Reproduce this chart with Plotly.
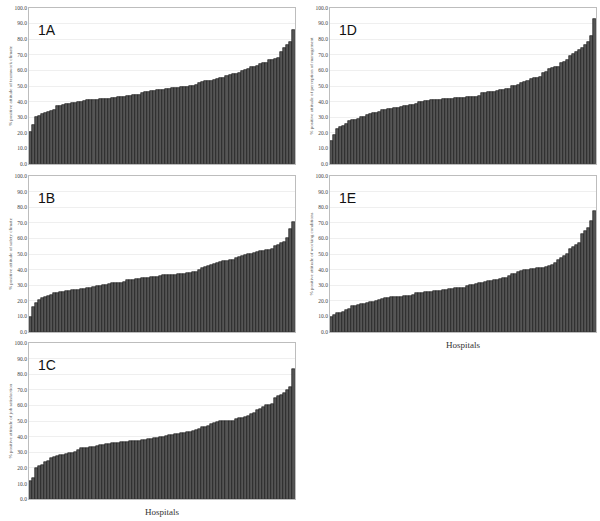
import plotly.graph_objects as go

# ---- data (sorted % positive attitude per hospital) ----
teamwork_climate = [20.5, 25, 30, 31, 32, 33, 33.5, 34, 35, 37, 37.5, 38, 38.3, 38.5, 39, 39.2, 39.5, 40, 40.5, 40.8,
                    41, 41.2, 41.4, 41.5, 41.7, 41.8, 42, 42.2, 42.4, 42.8, 43, 43.2, 43.5, 43.8, 44, 44.2, 44.5, 45.5, 46, 46.3,
                    46.6, 47, 47.2, 47.5, 47.8, 48, 48.3, 48.6, 48.8, 49, 49.3, 49.5, 49.6, 49.8, 50, 51, 52, 52.5, 53, 53.2,
                    53.5, 54, 54.5, 55, 55.5, 56.5, 57, 57.5, 58, 58.5, 59.5, 60, 61, 62, 62.5, 63, 64, 64.5, 65, 66.5,
                    67, 67.5, 68, 72, 74.5, 76, 78, 86]
safety_climate = [10, 16, 18.5, 20.5, 22, 22.5, 23, 23.5, 25, 25.2, 25.5, 26, 26.2, 26.5, 26.8, 27, 27.2, 27.5, 27.8, 28,
                  28.5, 29, 29.5, 29.8, 30, 30.5, 30.8, 31.2, 31.4, 31.5, 31.6, 32, 33.5, 33.6, 33.7, 33.8, 34.2, 34.5, 34.8, 35,
                  35.2, 35.4, 35.6, 36, 36.3, 36.5, 36.6, 36.7, 36.8, 37, 37.2, 37.4, 37.6, 38, 38.3, 38.5, 40, 41, 42, 42.5,
                  43, 43.5, 44.5, 45, 45.5, 45.8, 46, 46.3, 47.5, 48, 48.5, 49.5, 50, 50.2, 51, 51.5, 52, 52.2, 52.4, 52.6,
                  53, 55, 56, 57, 58, 60, 66, 70.5]
job_satisfaction = [11.5, 13.5, 20, 21.5, 22, 24, 24.5, 26.5, 27, 27.5, 28, 28.5, 29, 29.3, 29.6, 30.5, 31.5, 32.5, 32.8, 33,
                    33.3, 33.5, 34, 34.5, 35, 35.3, 35.5, 35.7, 36, 36.2, 36.5, 36.6, 36.8, 37, 37.2, 37.4, 37.5, 37.8, 38, 38.3,
                    38.6, 39, 39.3, 39.6, 40, 40.5, 40.8, 41, 41.5, 42, 42.3, 42.5, 42.8, 43, 43.5, 44, 45, 46, 46.5, 47,
                    48, 48.5, 49.5, 50, 50, 50, 50, 50.2, 51.5, 52, 52.2, 52.5, 53.5, 54.5, 55, 57, 58, 59, 60, 60.5,
                    61, 65, 66, 67, 68, 70, 72, 83.5]
perception_management = [15, 18.5, 22.5, 23.5, 24.5, 26, 27.5, 28, 28.5, 29, 30, 30.5, 31.5, 32, 32.5, 33, 33.5, 34.5, 35, 35.2,
                         35.5, 36, 36.2, 36.5, 37, 37.3, 37.6, 38, 38.5, 39.5, 40, 40.2, 40.5, 40.8, 41, 41.1, 41.3, 41.5, 41.6, 41.8,
                         42, 42.2, 42.3, 42.5, 42.6, 42.7, 42.8, 43, 43.2, 43.5, 45.5, 45.7, 46, 46.2, 46.5, 47, 47.3, 47.6, 48, 48.2,
                         50, 50.2, 51, 52, 52.5, 53.5, 54.5, 55, 55.5, 56, 58.5, 59, 61, 61.5, 62, 62.5, 64.5, 65.5, 66.5, 69,
                         70.5, 72, 73, 74.5, 76, 78.5, 82, 93]
working_conditions = [9.5, 11, 12, 12.2, 12.8, 14, 15, 16.5, 17, 17.5, 17.8, 18, 19, 19.3, 19.6, 20, 20.5, 21, 22, 22.2,
                      22.3, 22.4, 22.5, 22.8, 23, 23.2, 23.4, 23.5, 25, 25.2, 25.3, 25.5, 25.7, 26, 26.2, 26.4, 26.5, 26.7, 27, 27.5,
                      27.7, 28, 28.2, 28.4, 28.6, 29.5, 30, 30.5, 31, 31.5, 31.7, 32, 32.5, 33, 33.2, 33.5, 34, 34.5, 35, 36,
                      37, 37.5, 38.5, 39, 39.5, 40, 40.5, 40.7, 40.8, 41, 41.2, 41.5, 42.5, 43, 44, 46, 47.5, 48.5, 50, 53,
                      54.5, 56, 57, 63, 65, 66.5, 71, 77.5]

panel_labels = ["1A", "1B", "1C", "1D", "1E"]
y_titles = ["% positive attitude of teamwork climate",
            "% positive attitude of safety climate",
            "% positive attitude of job satisfaction",
            "% positive attitude of perception of management",
            "% positive attitude of working conditions"]
series = [teamwork_climate, safety_climate, job_satisfaction, perception_management, working_conditions]
y_ticks = [0, 10, 20, 30, 40, 50, 60, 70, 80, 90, 100]

W, H = 600, 521
def px_x(x): return x / W
def px_y(y): return (H - y) / H

# panel geometry in pixels (left, right, top, bottom)
boxes = [(29, 295, 5, 163), (29, 295, 175, 333), (29, 295, 344, 502),
         (330, 596, 5, 163), (330, 596, 175, 333)]
x_titles = ["", "", "Hospitals", "", "Hospitals"]

fig = go.Figure()
for k, (vals, lab, yt, box, xt) in enumerate(zip(series, panel_labels, y_titles, boxes, x_titles)):
    n = k + 1
    xa = "x" if n == 1 else f"x{n}"
    ya = "y" if n == 1 else f"y{n}"
    hosp = list(range(1, len(vals) + 1))
    fig.add_trace(go.Bar(x=hosp, y=vals, xaxis=xa, yaxis=ya,
                         marker=dict(color="#555555", line=dict(color="#111111", width=0.6)),
                         showlegend=False))
    l, r, t, b = box
    xkey = "xaxis" if n == 1 else f"xaxis{n}"
    ykey = "yaxis" if n == 1 else f"yaxis{n}"
    fig.layout[xkey] = dict(domain=[px_x(l), px_x(r)], anchor=ya, range=[0.5, len(vals) + 0.5],
                            showticklabels=False, ticks="", showgrid=False, zeroline=False,
                            showline=True, linecolor="#bdbdbd", linewidth=1, mirror=True,
                            title=dict(text=xt, font=dict(family="Liberation Serif", size=9, color="#333333"),
                                       standoff=9))
    fig.layout[ykey] = dict(domain=[px_y(b), px_y(t)], anchor=xa, range=[0, 100],
                            tickvals=y_ticks, tickformat=".1f", ticks="",
                            tickfont=dict(family="Liberation Serif", size=5.5, color="#444444"),
                            showgrid=True, gridcolor="#efefef", gridwidth=1, zeroline=False,
                            showline=True, linecolor="#bdbdbd", linewidth=1, mirror=True,
                            title=dict(text=yt, font=dict(family="Liberation Serif", size=5, color="#555555"),
                                       standoff=1))
    fig.add_annotation(text=lab, x=px_x(l + 7), y=px_y(t + 22), xref="paper", yref="paper",
                       xanchor="left", yanchor="middle", showarrow=False,
                       font=dict(family="Liberation Sans", size=14, color="#111111"))

fig.update_layout(width=W, height=H, margin=dict(l=0, r=0, t=0, b=0),
                  paper_bgcolor="white", plot_bgcolor="white", bargap=0)
fig.write_html("out.html", config={"displayModeBar": False},
               post_script="document.body.style.margin='0';")
